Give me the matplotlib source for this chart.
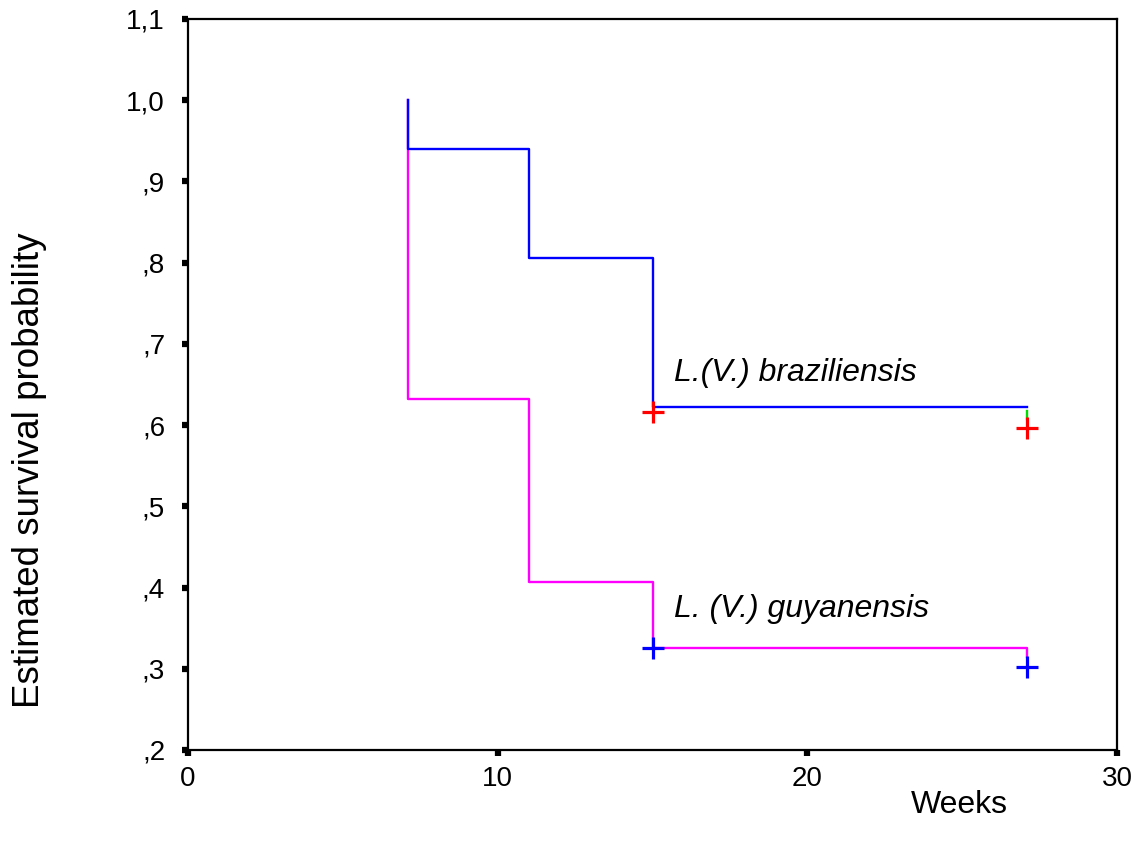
import matplotlib
matplotlib.use("Agg")
import matplotlib.pyplot as plt

plt.rcParams['font.family'] = ['Liberation Sans', 'DejaVu Sans']

# Krzywe Kaplana-Meiera
braz_weeks = [7.1, 7.1, 11.0, 15.0, 27.1]
braz_surv = [1.0, 0.94, 0.806, 0.622, 0.622]
braz_tail_weeks = [27.1, 27.1]
braz_tail_surv = [0.617, 0.607]
braz_censor_weeks = [15.0, 27.1]
braz_censor_surv = [0.616, 0.597]

guy_weeks = [7.1, 7.1, 11.0, 15.0, 27.1, 27.1]
guy_surv = [1.0, 0.632, 0.407, 0.326, 0.326, 0.315]
guy_censor_weeks = [15.0, 27.1]
guy_censor_surv = [0.325, 0.302]

y_ticks = [0.2, 0.3, 0.4, 0.5, 0.6, 0.7, 0.8, 0.9, 1.0, 1.1]
y_ticklabels = [",2", ",3", ",4", ",5", ",6", ",7", ",8", ",9", "1,0", "1,1"]
x_ticks = [0, 10, 20, 30]

fig = plt.figure(figsize=(11.38, 8.48), dpi=100)
ax = fig.add_axes([0.1652, 0.1156, 0.8164, 0.862])

ax.step(guy_weeks, guy_surv, where='post', color='#ff00ff', lw=1.7)
ax.step(braz_weeks, braz_surv, where='post', color='#0000ff', lw=1.7)
ax.plot(braz_tail_weeks, braz_tail_surv, color='#00dd00', lw=1.7)

ax.plot(braz_censor_weeks, braz_censor_surv, '+', color='#ff0000',
        markersize=16, mew=2.3, clip_on=False)
ax.plot(guy_censor_weeks, guy_censor_surv, '+', color='#0000ff',
        markersize=16, mew=2.3, clip_on=False)

ax.text(15.7, 0.664, "L.(V.) braziliensis", fontsize=23, style='italic',
        va='center')
ax.text(15.7, 0.374, "L. (V.) guyanensis", fontsize=23, style='italic',
        va='center')

ax.set_xlim(0, 30)
ax.set_ylim(0.2, 1.1)
ax.set_xticks(x_ticks)
ax.set_yticks(y_ticks)
ax.set_yticklabels(y_ticklabels)
ax.tick_params(direction='out', length=4.5, width=4.5, labelsize=20)
ax.tick_params(axis='y', pad=12)
ax.tick_params(axis='x', pad=7)
for s in ax.spines.values():
    s.set_linewidth(1.6)

fig.text(0.026, 0.446, "Estimated survival probability", rotation=90,
         fontsize=26.5, ha='center', va='center')
fig.text(0.843, 0.051, "Weeks", fontsize=23, ha='center', va='center')

fig.savefig("out.png", dpi=100)
